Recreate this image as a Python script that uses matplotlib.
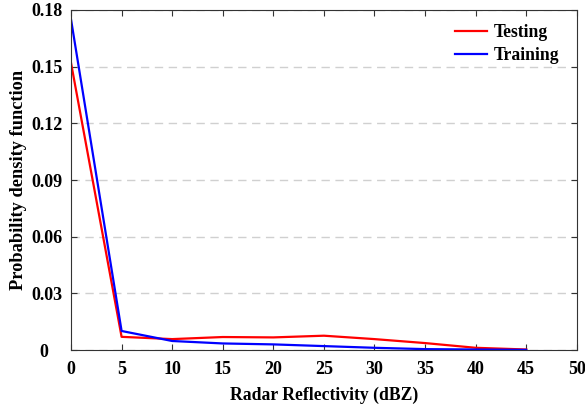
import matplotlib
matplotlib.use("Agg")
import matplotlib.pyplot as plt

x = [0, 5, 10, 15, 20, 25, 30, 35, 40, 45]
testing = [0.152, 0.0070, 0.0058, 0.0069, 0.0067, 0.0076, 0.0058, 0.0037, 0.0012, 0.0003]
training = [0.175, 0.0101, 0.0048, 0.0035, 0.0030, 0.0021, 0.0012, 0.0005, 0.0003, 0.0001]
xticks = [0, 5, 10, 15, 20, 25, 30, 35, 40, 45, 50]
yticks = [0, 0.03, 0.06, 0.09, 0.12, 0.15, 0.18]
ylabels = ["0   ", "0.03", "0.06", "0.09", "0.12", "0.15", "0.18"]

plt.rcParams['font.family'] = ['Liberation Serif', 'DejaVu Serif']
plt.rcParams['font.weight'] = 'bold'

fig = plt.figure(figsize=(5.85, 4.08), dpi=100)
ax = fig.add_axes([0.1214, 0.142, 0.8646, 0.8335])
ax.plot(x, testing, color='#ff0000', lw=1.6, label='Testing')
ax.plot(x, training, color='#0000ff', lw=1.6, label='Training')
ax.set_xlim(0, 50)
ax.set_ylim(0, 0.18)
ax.set_xticks(xticks)
ax.set_yticks(yticks)
ax.set_yticklabels(ylabels)
ax.yaxis.grid(True, linestyle=(0, (6, 4)), color='#d0d0d0', lw=1.0)
ax.tick_params(direction='in', top=True, right=True, labelsize=13, length=4, width=0.8, colors='#333333', labelcolor='black')
ax.tick_params(axis='x', pad=8)
ax.tick_params(axis='y', pad=6)
for s in ax.spines.values():
    s.set_color('#333333')
    s.set_linewidth(0.8)
for t in ax.get_xticklabels() + ax.get_yticklabels():
    t.set_fontweight('bold')
ax.set_xlabel('Radar Reflectivity (dBZ)', fontsize=12.7, fontweight='bold', labelpad=6)
ax.set_ylabel('Probability density function', fontsize=13.2, fontweight='bold', labelpad=3)
leg = ax.legend(loc='upper right', bbox_to_anchor=(0.994, 1.0), frameon=False, fontsize=12.7, handlelength=1.8, handletextpad=0.4, labelspacing=0.35, borderaxespad=0.4)
for t in leg.get_texts():
    t.set_fontweight('bold')
fig.savefig('out.png', dpi=100)
